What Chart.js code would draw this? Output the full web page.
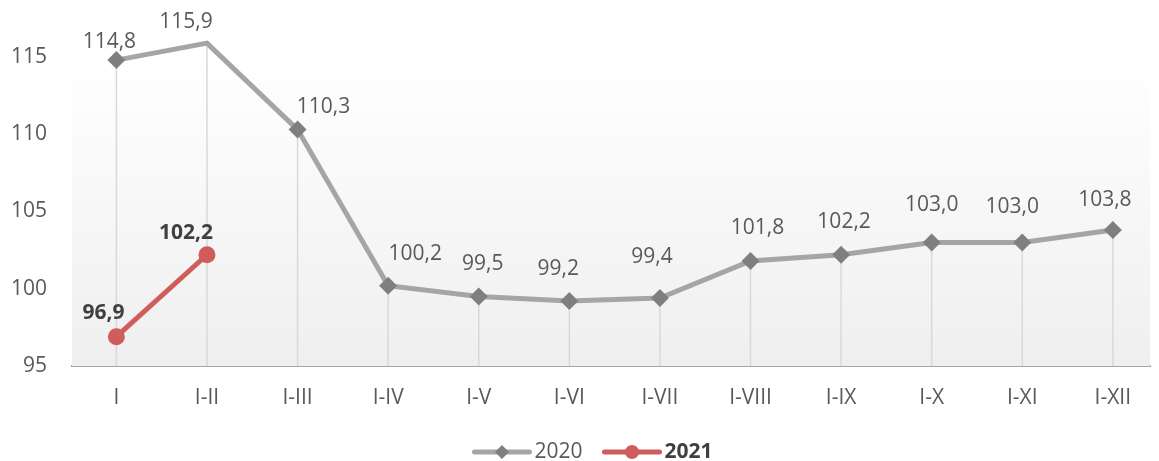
<!DOCTYPE html>
<html>
<head>
<meta charset="utf-8">
<script src="https://cdn.jsdelivr.net/npm/chart.js@4.4.1/dist/chart.umd.min.js"></script>
<style>
  html, body { margin: 0; padding: 0; background: #fff; overflow: hidden; }
  #wrap { width: 1159px; height: 461px; }
</style>
</head>
<body>
<div id="wrap"><canvas id="myChart"></canvas></div>
<script>
const categories = ['I', 'I-II', 'I-III', 'I-IV', 'I-V', 'I-VI', 'I-VII', 'I-VIII', 'I-IX', 'I-X', 'I-XI', 'I-XII'];
const values2020 = [114.8, 115.9, 110.3, 100.2, 99.5, 99.2, 99.4, 101.8, 102.2, 103.0, 103.0, 103.8];
const values2021 = [96.9, 102.2];
const yTicks = [95, 100, 105, 110, 115];
const seriesNames = ['2020', '2021'];

const FONT = '"Open Sans", sans-serif';
const GREY_LINE = '#a5a5a5';
const GREY_MARK = '#7f7f7f';
const RED = '#d05c5c';

// label placement relative to each point (dx, dy), as hand-placed in the original
const labelNudge2020 = [[-7, -18], [-21, -21], [26, -23], [27, -32], [4, -32], [-11, -32],
  [-8, -41], [7, -33], [3, -33], [0, -37], [-10, -35], [-8, -30]];
const labelNudge2021 = [[-13, -24], [-21, -22]];

const fmt = (v) => v.toFixed(1).replace('.', ',');
const toPoints = (arr) => arr.map((v, i) => ({ x: i, y: v }));

// background gradient + drop lines under the points
const plotDecor = {
  id: 'plotDecor',
  beforeDatasetsDraw(chart) {
    const { ctx, chartArea } = chart;
    ctx.save();
    const g = ctx.createLinearGradient(0, chartArea.top, 0, chartArea.bottom);
    g.addColorStop(0, '#ffffff');
    g.addColorStop(1, '#efefef');
    ctx.fillStyle = g;
    ctx.fillRect(chartArea.left, chartArea.top, chartArea.right - chartArea.left, chartArea.bottom - chartArea.top);

    ctx.strokeStyle = '#d9d9d9';
    ctx.lineWidth = 1.5;
    chart.getDatasetMeta(0).data.forEach((pt) => {
      ctx.beginPath();
      ctx.moveTo(pt.x, pt.y);
      ctx.lineTo(pt.x, chartArea.bottom);
      ctx.stroke();
    });
    ctx.restore();
  },
};

// value labels
const valueLabels = {
  id: 'valueLabels',
  afterDatasetsDraw(chart) {
    const { ctx } = chart;
    ctx.save();
    ctx.textAlign = 'center';
    ctx.textBaseline = 'middle';

    ctx.font = '21px ' + FONT;
    ctx.fillStyle = '#595959';
    chart.getDatasetMeta(0).data.forEach((pt, i) => {
      const [dx, dy] = labelNudge2020[i];
      ctx.fillText(fmt(values2020[i]), pt.x + dx, pt.y + dy);
    });

    ctx.font = 'bold 21px ' + FONT;
    ctx.fillStyle = '#404040';
    chart.getDatasetMeta(1).data.forEach((pt, i) => {
      const [dx, dy] = labelNudge2021[i];
      ctx.fillText(fmt(values2021[i]), pt.x + dx, pt.y + dy);
    });
    ctx.restore();
  },
};

// legend drawn by hand so that only "2021" is bold
const customLegend = {
  id: 'customLegend',
  afterDraw(chart) {
    const { ctx } = chart;
    const y = 452;
    const lineLen = 55;
    const gap = 5;
    const itemGap = 22;
    ctx.save();
    ctx.textBaseline = 'middle';
    ctx.textAlign = 'left';

    ctx.font = '21px ' + FONT;
    const w1 = ctx.measureText(seriesNames[0]).width;
    ctx.font = 'bold 21px ' + FONT;
    const w2 = ctx.measureText(seriesNames[1]).width;
    const total = lineLen + gap + w1 + itemGap + lineLen + gap + w2;
    let x = chart.width / 2 + 14 - total / 2;

    // 2020
    ctx.strokeStyle = GREY_LINE;
    ctx.lineWidth = 5;
    ctx.lineCap = 'round';
    ctx.beginPath();
    ctx.moveTo(x, y);
    ctx.lineTo(x + lineLen, y);
    ctx.stroke();
    ctx.fillStyle = GREY_MARK;
    ctx.beginPath();
    ctx.moveTo(x + lineLen / 2 - 7, y);
    ctx.lineTo(x + lineLen / 2, y - 7);
    ctx.lineTo(x + lineLen / 2 + 7, y);
    ctx.lineTo(x + lineLen / 2, y + 7);
    ctx.closePath();
    ctx.fill();
    x += lineLen + gap;
    ctx.font = '21px ' + FONT;
    ctx.fillStyle = '#595959';
    ctx.fillText(seriesNames[0], x, y);
    x += w1 + itemGap;

    // 2021
    ctx.strokeStyle = RED;
    ctx.beginPath();
    ctx.moveTo(x, y);
    ctx.lineTo(x + lineLen, y);
    ctx.stroke();
    ctx.fillStyle = RED;
    ctx.beginPath();
    ctx.arc(x + lineLen / 2, y, 7, 0, Math.PI * 2);
    ctx.fill();
    x += lineLen + gap;
    ctx.font = 'bold 21px ' + FONT;
    ctx.fillStyle = '#404040';
    ctx.fillText(seriesNames[1], x, y);
    ctx.restore();
  },
};

const ctx = document.querySelector('#myChart');
// eslint-disable-next-line no-unused-vars
const lineChart = new Chart(ctx, {
  type: 'line',
  data: {
    datasets: [
      {
        label: seriesNames[0],
        data: toPoints(values2020),
        borderColor: GREY_LINE,
        borderWidth: 5,
        pointStyle: 'rectRot',
        pointRadius: 9,
        pointBackgroundColor: GREY_MARK,
        pointBorderWidth: 0,
        tension: 0,
        clip: false,
      },
      {
        label: seriesNames[1],
        data: toPoints(values2021),
        borderColor: RED,
        borderWidth: 5,
        pointStyle: 'circle',
        pointRadius: 8.5,
        pointBackgroundColor: RED,
        pointBorderWidth: 0,
        tension: 0,
        clip: false,
      },
    ],
  },
  options: {
    responsive: true,
    maintainAspectRatio: false,
    animation: false,
    layout: { padding: { top: 57, left: 0, right: 0, bottom: 0 } },
    plugins: {
      legend: { display: false },
      tooltip: { enabled: false },
    },
    scales: {
      x: {
        type: 'linear',
        min: -0.49,
        max: 11.41,
        afterBuildTicks: (s) => { s.ticks = categories.map((c, i) => ({ value: i })); },
        afterFit: (s) => { s.height = 95; },
        grid: { display: false, drawTicks: false },
        border: { display: true, color: '#a6a6a6', width: 2 },
        ticks: {
          autoSkip: false,
          maxRotation: 0,
          padding: 19,
          color: '#595959',
          font: { family: FONT, size: 21 },
          callback: (v) => categories[v] ?? '',
        },
      },
      y: {
        min: 95,
        max: 115,
        afterBuildTicks: (s) => { s.ticks = yTicks.map((v) => ({ value: v })); },
        afterFit: (s) => { s.width = 72; },
        grid: { display: false, drawTicks: false },
        border: { display: false },
        ticks: {
          padding: 25,
          color: '#595959',
          font: { family: FONT, size: 21 },
        },
      },
    },
  },
  plugins: [plotDecor, valueLabels, customLegend],
});
</script>
</body>
</html>
